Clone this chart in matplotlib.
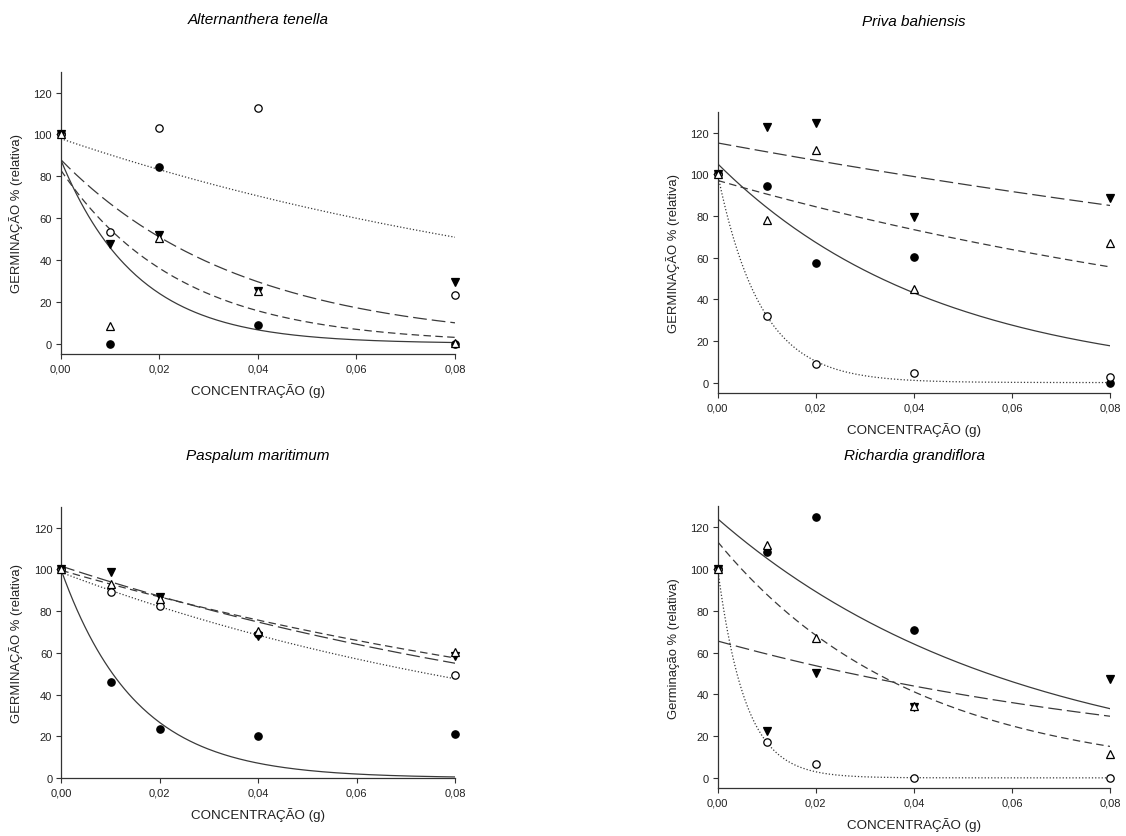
import numpy as np
import matplotlib
matplotlib.use('Agg')
import matplotlib.pyplot as plt

plt.rcParams['font.family'] = ['Liberation Sans', 'DejaVu Sans']

# concentration levels (g)
conc = [0.0, 0.01, 0.02, 0.04, 0.08]
x_ticks = [0.0, 0.02, 0.04, 0.06, 0.08]
x_tick_labels = ['0,00', '0,02', '0,04', '0,06', '0,08']
y_ticks = [0, 20, 40, 60, 80, 100, 120]

titles = ['Alternanthera tenella', 'Priva bahiensis',
          'Paspalum maritimum', 'Richardia grandiflora']
y_labels = ['GERMINAÇÃO % (relativa)', 'GERMINAÇÃO % (relativa)',
            'GERMINAÇÃO % (relativa)', 'Germinação % (relativa)']
x_label = 'CONCENTRAÇÃO (g)'

# observed relative germination, per species: filled circle, open circle,
# filled down triangle, open triangle
alt_filled = [100, 0, 84.5, 9, 0]
alt_open = [100, 53.5, 103, 112.5, 23]
alt_down = [100, 47.5, 52, 25, 29.5]
alt_tri = [100, 8.5, 50.5, 25, 0.3]

priva_filled = [100, 94.5, 57.5, 60.5, 0]
priva_open = [100, 32, 9, 4.5, 2.5]
priva_down = [100, 122.5, 124.5, 79.5, 88.5]
priva_tri = [100, 78, 111.5, 45, 67]

pasp_filled = [100, 45.8, 23.5, 20.3, 21.3]
pasp_open = [100, 89, 82.3, 69, 49.2]
pasp_down = [100, 98.5, 86.8, 67.9, 58.5]
pasp_tri = [100, 93, 85.6, 70.5, 60.5]

rich_filled = [100, 108.3, 125, 71, np.nan]
rich_open = [100, 17, 6.7, 0, 0]
rich_down = [100, 22.5, 50, 34, 47.5]
rich_tri = [100, 111.4, 67, 34.3, 11.5]

# fitted decay curves y = a * exp(-b * x), same series order
alt_fit_a = [88, 98, 88, 83]
alt_fit_b = [65, 8.2, 27.3, 41.7]
priva_fit_a = [105, 100, 115, 97]
priva_fit_b = [22.3, 114, 3.78, 6.98]
pasp_fit_a = [99.5, 98.5, 101.5, 99.5]
pasp_fit_b = [66, 9.1, 7.66, 6.85]
rich_fit_a = [124, 100, 65.5, 113]
rich_fit_b = [16.5, 177, 9.97, 25.2]

panels = [
    (alt_filled, alt_open, alt_down, alt_tri, alt_fit_a, alt_fit_b, -5),
    (priva_filled, priva_open, priva_down, priva_tri, priva_fit_a, priva_fit_b, -5),
    (pasp_filled, pasp_open, pasp_down, pasp_tri, pasp_fit_a, pasp_fit_b, 0),
    (rich_filled, rich_open, rich_down, rich_tri, rich_fit_a, rich_fit_b, -5),
]

W, H = 1126, 837
# axes boxes in pixels: left, top, right, bottom
boxes = [(60.7, 72.7, 455, 355), (717.7, 112.7, 1110.3, 394),
         (61.3, 507.7, 455, 779), (717.7, 507.3, 1110, 789.3)]
title_pos = [(258, 20), (914, 22), (258, 456), (914, 456)]

markers = [
    dict(marker='o', mfc='black', mec='black'),
    dict(marker='o', mfc='white', mec='black'),
    dict(marker='v', mfc='black', mec='black'),
    dict(marker='^', mfc='white', mec='black'),
]
line_styles = ['-', (0, (1, 1.6)), (0, (11, 4)), (0, (6, 3.5))]
line_color = '#3a3a3a'

fig = plt.figure(figsize=(W / 100, H / 100), dpi=100)
xs = np.linspace(0, 0.08, 200)

for i, (f, o, d, t, fa, fb, ymin) in enumerate(panels):
    l, tp, r, b = boxes[i]
    ax = fig.add_axes([l / W, 1 - b / H, (r - l) / W, (b - tp) / H])
    for a_k, b_k, ls in zip(fa, fb, line_styles):
        ax.plot(xs, a_k * np.exp(-b_k * xs), color=line_color, lw=0.9,
                linestyle=ls, zorder=2)
    for series, mk in zip([f, o, d, t], markers):
        ax.plot(conc, series, linestyle='none', markersize=5.3,
                markeredgewidth=0.9, clip_on=False, zorder=3, **mk)
    ax.set_xlim(0, 0.08)
    ax.set_ylim(ymin, 130)
    ax.set_xticks(x_ticks)
    ax.set_xticklabels(x_tick_labels)
    ax.set_yticks(y_ticks)
    for side in ['top', 'right']:
        ax.spines[side].set_visible(False)
    for side in ['left', 'bottom']:
        ax.spines[side].set_color('#333333')
        ax.spines[side].set_linewidth(0.9)
    ax.tick_params(direction='out', length=3.5, width=0.8, color='#333333',
                   labelsize=8, labelcolor='#222222', pad=3)
    ax.set_xlabel(x_label, fontsize=9.6, labelpad=7, color='#222222')
    ax.set_ylabel(y_labels[i], fontsize=9.4, color='#222222')
    ax.yaxis.set_label_coords(-38 / (r - l), 0.5)
    fig.text(title_pos[i][0] / W, 1 - title_pos[i][1] / H, titles[i],
             ha='center', va='center', fontsize=11, style='italic')

fig.savefig('out.png', dpi=100)
